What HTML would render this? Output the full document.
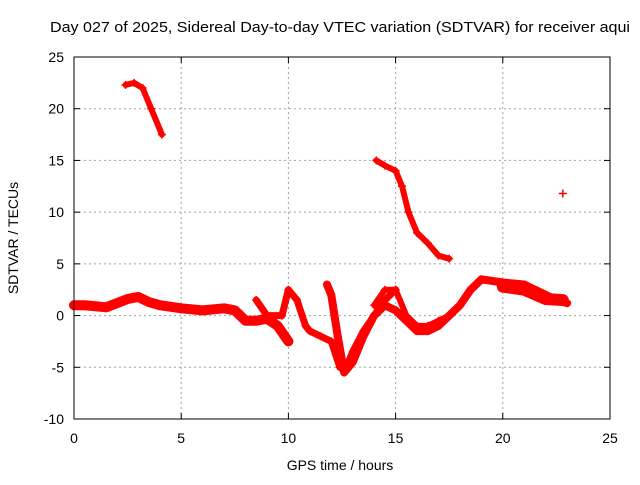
<!DOCTYPE html>
<html><head><meta charset="utf-8"><style>
body{margin:0;background:#fff}
svg text{font-family:"Liberation Sans",sans-serif;font-size:14px;fill:#000}
</style></head><body>
<svg id="chart" width="640" height="480">
<rect width="640" height="480" fill="#fff"/>
<g id="grid"></g><g id="series"></g><g id="axes"></g>
<text x="50" y="32" textLength="580" lengthAdjust="spacingAndGlyphs" style="font-size:15px">Day 027 of 2025, Sidereal Day-to-day VTEC variation (SDTVAR) for receiver aqui</text>
<text x="340" y="470" text-anchor="middle">GPS time / hours</text>
<text transform="translate(18,238) rotate(-90)" text-anchor="middle">SDTVAR / TECUs</text>
</svg>
<script>
const xTicks=[0,5,10,15,20,25];
const yTicks=[-10,-5,0,5,10,15,20,25];
const morningX=[0,0.5,1,1.5,2,2.5,3,3.5,4,5,6,7,7.5,8,8.5,9,9.5,10];
const morningY=[1,1,0.9,0.8,1.2,1.6,1.8,1.3,1.0,0.7,0.5,0.7,0.5,-0.5,-0.5,-0.3,-1,-2.5];
const trackAX=[8.5,9,9.7,10,10.4,10.8,11,11.5,12,12.4,12.7,13,13.5,14,14.5,15];
const trackAY=[1.5,0,0,2.5,1.5,-1,-1.5,-2,-2.5,-5,-5,-3.5,-1.5,0,1.5,2.5];
const trackBX=[11.8,12,12.3,12.6,13,13.5,14,14.5,15,15.5,16,16.5,17,17.5,18,18.5,19,20,21,22,22.5,23];
const trackBY=[3,2,-2,-5.5,-4.5,-2,0,1,0.5,-0.5,-1.5,-1.5,-1,0,1,2.5,3.5,3.2,3,2,1.5,1.2];
const trackCX=[14,14.5,15,15.5,16,16.5,17,17.5];
const trackCY=[1,2.5,2.5,0,-1,-1,-0.5,0];
const trackDX=[14.1,14.5,15,15.3,15.6,16,16.5,17,17.5];
const trackDY=[15,14.5,14,12.5,10,8,7,5.8,5.5];
const trackEX=[2.4,2.8,3.2,3.6,4.1];
const trackEY=[22.3,22.5,22,20,17.5];
const tailX=[20,21,22,22.8];
const tailY=[2.8,2.5,1.6,1.5];
const pointX=[22.8];
const pointY=[11.8];
const X0=74,X1=610,Y0=419,Y1=57;
const sx=v=>X0+(v-0)/25*(X1-X0);
const sy=v=>Y0-(v+10)/35*(Y0-Y1);
const NS='http://www.w3.org/2000/svg';
const grid=document.getElementById('grid'),axes=document.getElementById('axes'),ser=document.getElementById('series');
function mk(tag,attrs,parent){const e=document.createElementNS(NS,tag);for(const k in attrs)e.setAttribute(k,attrs[k]);parent.appendChild(e);return e;}
xTicks.forEach(t=>{
 if(t>0&&t<25){const l=mk('line',{x1:sx(t),x2:sx(t),y1:Y1,y2:Y0,stroke:'#a0a0a0','stroke-dasharray':'2,3'},grid);
 
 }
 const tk=mk('line',{x1:sx(t),x2:sx(t),y1:Y0,y2:Y0-6,stroke:'#000'},axes);
 
 
 mk('line',{x1:sx(t),x2:sx(t),y1:Y1,y2:Y1+6,stroke:'#000'},axes);
 const tx=mk('text',{x:sx(t),y:Y0+24,'text-anchor':'middle'},axes);tx.textContent=t;
 
 
});
yTicks.forEach(t=>{
 if(t>-10&&t<25){const l=mk('line',{x1:X0,x2:X1,y1:sy(t),y2:sy(t),stroke:'#a0a0a0','stroke-dasharray':'2,3'},grid);
 
 }
 const tk=mk('line',{x1:X0,x2:X0+6,y1:sy(t),y2:sy(t),stroke:'#000'},axes);
 
 
 mk('line',{x1:X1,x2:X1-6,y1:sy(t),y2:sy(t),stroke:'#000'},axes);
 const tx=mk('text',{x:X0-10,y:sy(t)+5,'text-anchor':'end'},axes);tx.textContent=t;
 
 
});
const fr=mk('rect',{x:X0,y:Y1,width:X1-X0,height:Y0-Y1,fill:'none',stroke:'#000'},axes);


function track(xs,ys,w,name){
 const pts=xs.map((x,i)=>sx(x)+','+sy(ys[i])).join(' ');
 const p=mk('polyline',{points:pts,fill:'none',stroke:'#ff0000','stroke-width':w,'stroke-linejoin':'round','stroke-linecap':'round'},ser);
 
 
 xs.forEach((x,i)=>{const c=mk('path',{d:`M${sx(x)-4},${sy(ys[i])}h8M${sx(x)},${sy(ys[i])-4}v8`,stroke:'#ff0000','stroke-width':1.5},ser);
 
 });
}
track(morningX,morningY,10,'series-morning-band');
track(trackAX,trackAY,7,'series-track-a');
track(trackBX,trackBY,8,'series-track-b');
track(trackCX,trackCY,6,'series-track-c');
track(trackDX,trackDY,6,'series-track-d');
track(trackEX,trackEY,6,'series-track-e');
track(tailX,tailY,12,'series-tail-band');
track(pointX,pointY,5,'series-isolated-point');
</script>
</body></html>
